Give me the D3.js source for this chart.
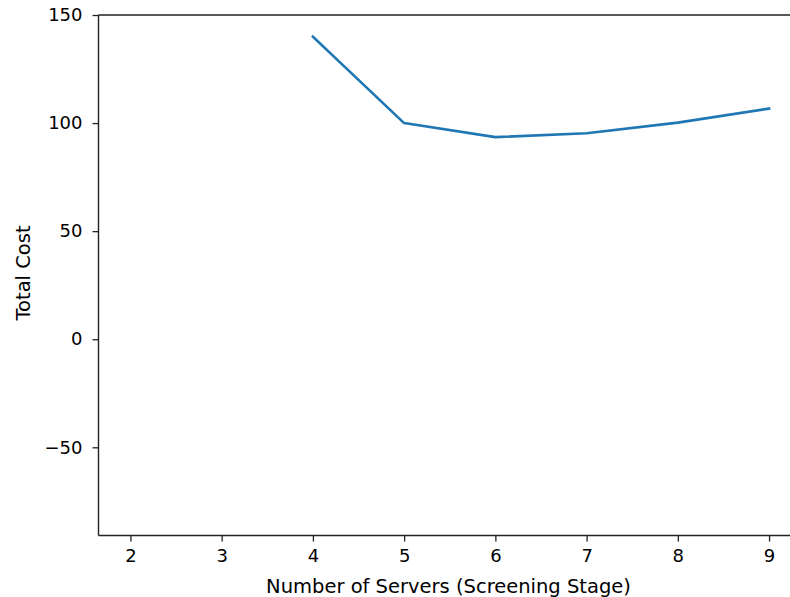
<!DOCTYPE html>
<html>
<head>
<meta charset="utf-8">
<script src="https://cdn.jsdelivr.net/npm/d3@7"></script>
<style>
  html, body { margin: 0; padding: 0; background: #fff; }
  svg { display: block; }
  text { font-family: "DejaVu Sans", sans-serif; fill: #000; }
</style>
</head>
<body>
<svg id="chart" width="790" height="597"></svg>
<script>
// Data
const servers = [2, 3, 4, 5, 6, 7, 8, 9];
const totalCost = [null, null, 140, 100, 93.5, 95.3, 100.2, 106.7];
const xTicks = [2, 3, 4, 5, 6, 7, 8, 9];
const yTicks = [-50, 0, 50, 100, 150];
const xDomain = [1.65, 9.35];
const yDomain = [-90.8, 150];

(function () {
const svg = d3.select("#chart");
const mLeft = 98.5, mTop = 15, mRight = 801, mBottom = 535.5;

const x = d3.scaleLinear().domain(xDomain).range([mLeft, mRight]);
const y = d3.scaleLinear().domain(yDomain).range([mBottom, mTop]);

const tickFs = 18, labelFs = 19.5;

// Line
const data = servers.map((s, i) => ({ s, v: totalCost[i] }));
const line = d3.line()
  .defined(d => d.v !== null)
  .x(d => x(d.s))
  .y(d => y(d.v));
svg.append("path")
  .datum(data)
  .attr("d", line)
  .attr("fill", "none")
  .attr("stroke", "#1f77b4")
  .attr("stroke-width", 2.6)
  .attr("stroke-linejoin", "round")
  .attr("stroke-linecap", "square");

// Axes
const xAxis = d3.axisBottom(x).tickValues(xTicks).tickSize(6).tickPadding(8).tickFormat(d3.format("d"));
const yAxis = d3.axisLeft(y).tickValues(yTicks).tickSize(6).tickPadding(10)
  .tickFormat(d => d < 0 ? "\u2212" + Math.abs(d) : String(d));

const gx = svg.append("g").attr("transform", `translate(0,${mBottom})`).call(xAxis);
const gy = svg.append("g").attr("transform", `translate(${mLeft},0)`).call(yAxis);
[gx, gy].forEach(g => {
  g.select(".domain").remove();
  g.selectAll(".tick line").attr("stroke", "#222").attr("stroke-width", 1.3);
  g.selectAll(".tick text").attr("font-size", tickFs).attr("font-family", "DejaVu Sans").attr("fill", "#222");
});

// Spines
const spine = svg.append("g").attr("stroke", "#222").attr("stroke-width", 1.4).attr("fill", "none");
spine.append("line").attr("x1", mLeft).attr("x2", mLeft).attr("y1", mTop).attr("y2", mBottom);
spine.append("line").attr("x1", mLeft).attr("x2", mRight).attr("y1", mBottom).attr("y2", mBottom);
spine.append("line").attr("x1", mLeft).attr("x2", mRight).attr("y1", mTop).attr("y2", mTop);
spine.append("line").attr("x1", mRight).attr("x2", mRight).attr("y1", mTop).attr("y2", mBottom);

// Axis labels
svg.append("text")
  .attr("x", 448.5)
  .attr("y", 593)
  .attr("text-anchor", "middle")
  .attr("font-size", labelFs)
  .attr("fill", "#222")
  .text("Number of Servers (Screening Stage)");

svg.append("text")
  .attr("transform", `translate(29.5,273) rotate(-90)`)
  .attr("text-anchor", "middle")
  .attr("font-size", labelFs)
  .attr("fill", "#222")
  .text("Total Cost");
})();
</script>
</body>
</html>
